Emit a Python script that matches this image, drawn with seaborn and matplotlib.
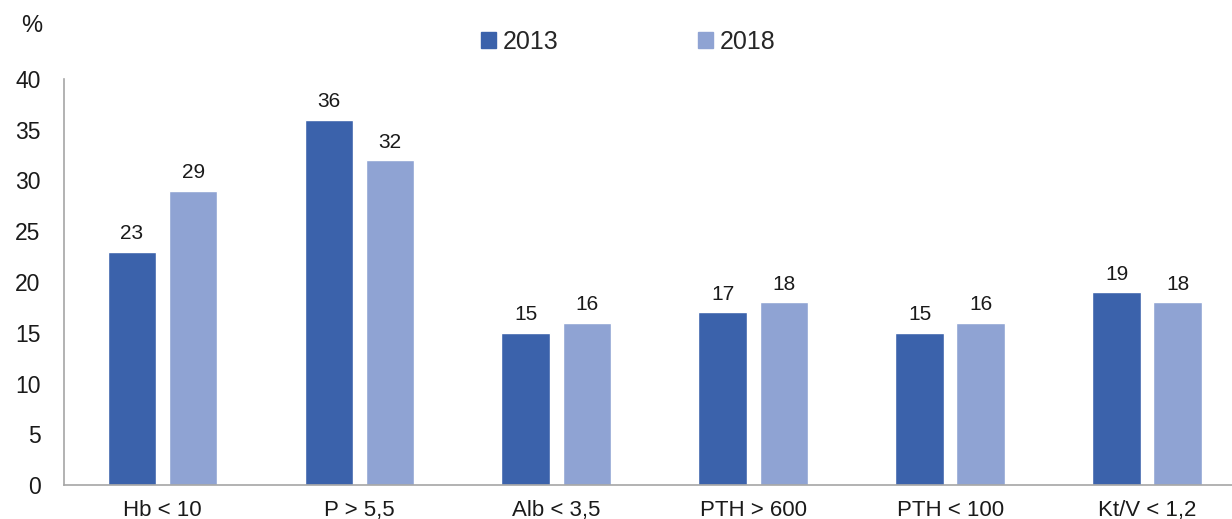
import pandas as pd
import matplotlib.pyplot as plt
import seaborn as sns

# Data
categories = ['Hb < 10', 'P > 5,5', 'Alb < 3,5', 'PTH > 600', 'PTH < 100', 'Kt/V < 1,2']
values_2013 = [23, 36, 15, 17, 15, 19]
values_2018 = [29, 32, 16, 18, 16, 18]
years = ['2013', '2018']

df = pd.DataFrame({
    'Category': categories * 2,
    'Year': [years[0]] * len(categories) + [years[1]] * len(categories),
    'Value': values_2013 + values_2018,
})

sns.set_style('white')
plt.rcParams['font.family'] = ['Liberation Sans', 'DejaVu Sans']

fig = plt.figure(figsize=(12.32, 5.19), dpi=100)
ax = fig.add_axes([0.052, 0.0655, 0.948, 0.7823])

palette = {'2013': '#3B62AB', '2018': '#8FA3D3'}
sns.barplot(data=df, x='Category', y='Value', hue='Year', palette=palette,
            width=0.62, gap=0.2, saturation=1, ax=ax, legend=False)

# value labels
for container in ax.containers:
    ax.bar_label(container, fmt='%d', padding=6, fontsize=15, color='#1a1a1a')

ax.set_ylim(0, 40)
ax.set_yticks(range(0, 41, 5))
ax.set_xlim(-0.5, 5.43)
ax.set_xlabel('')
ax.set_ylabel('')
ax.tick_params(axis='y', length=0, labelsize=16.5, pad=17, colors='#1a1a1a')
ax.tick_params(axis='x', length=0, labelsize=16, pad=11, colors='#1a1a1a')

for side in ['top', 'right']:
    ax.spines[side].set_visible(False)
for side in ['left', 'bottom']:
    ax.spines[side].set_color('#a6a6a6')
    ax.spines[side].set_linewidth(1.2)

fig.text(0.017, 0.95, '%', fontsize=17, ha='left', va='center', color='#1a1a1a')

# legend
handles = [plt.Rectangle((0, 0), 1, 1, color=palette[y]) for y in years]
fig.legend(handles, years, loc='center', bbox_to_anchor=(0.51, 0.92), ncol=2,
           frameon=False, fontsize=18, handlelength=0.6, handleheight=0.6,
           handletextpad=0.3, columnspacing=5.55)

fig.savefig('out.png', dpi=100)
